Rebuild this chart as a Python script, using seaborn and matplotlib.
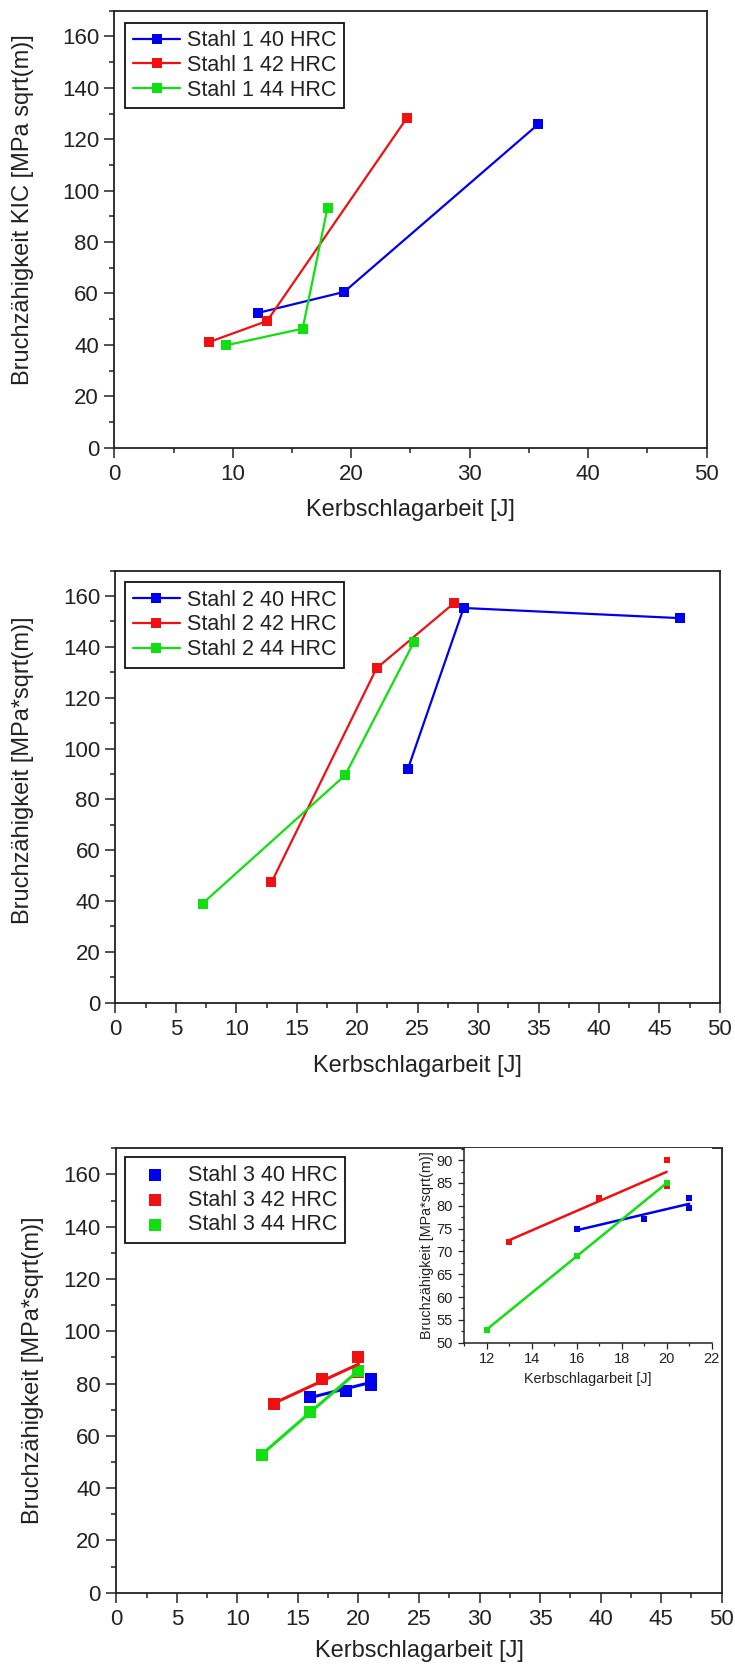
import numpy as np
import pandas as pd
import matplotlib
matplotlib.use("Agg")
import matplotlib.pyplot as plt
import seaborn as sns
from matplotlib.ticker import MultipleLocator
from matplotlib.lines import Line2D

# ---------------- data ----------------
labels1 = ["Stahl 1 40 HRC", "Stahl 1 42 HRC", "Stahl 1 44 HRC"]
s1_40_x = [12.1, 19.4, 35.8]
s1_40_y = [52.4, 60.6, 125.9]
s1_42_x = [8.0, 12.9, 24.7]
s1_42_y = [41.1, 49.3, 128.3]
s1_44_x = [9.4, 15.9, 18.0]
s1_44_y = [39.8, 46.3, 93.4]

labels2 = ["Stahl 2 40 HRC", "Stahl 2 42 HRC", "Stahl 2 44 HRC"]
s2_40_x = [24.2, 28.8, 46.7]
s2_40_y = [92.1, 155.3, 151.3]
s2_42_x = [12.9, 21.6, 28.0]
s2_42_y = [47.3, 131.6, 157.2]
s2_44_x = [7.2, 19.0, 24.7]
s2_44_y = [39.0, 89.5, 142.0]

labels3 = ["Stahl 3 40 HRC", "Stahl 3 42 HRC", "Stahl 3 44 HRC"]
s3_40_x = [16, 19, 21, 21]
s3_40_y = [75.0, 77.2, 81.8, 79.6]
s3_42_x = [13, 17, 20, 20]
s3_42_y = [72.1, 81.8, 90.1, 84.3]
s3_44_x = [12, 16, 20]
s3_44_y = [52.8, 69.05, 84.9]

colors = ["#0000f0", "#f01010", "#10e010"]

xlabel_txt = "Kerbschlagarbeit [J]"
ylabel1_txt = "Bruchzähigkeit KIC [MPa sqrt(m)]"
ylabel2_txt = "Bruchzähigkeit [MPa*sqrt(m)]"

# ---------------- style ----------------
sns.set_style("ticks")
plt.rcParams["font.family"] = ["Liberation Sans", "DejaVu Sans"]
plt.rcParams["axes.edgecolor"] = "#222222"
plt.rcParams["text.color"] = "#222222"
plt.rcParams["legend.numpoints"] = 1

TXT = "#222222"

fig = plt.figure(figsize=(7.35, 16.68), dpi=100)
fig.patch.set_facecolor("white")

ax1 = fig.add_axes([0.1555, 0.7316, 0.8060, 0.2620])
ax2 = fig.add_axes([0.1571, 0.3989, 0.8224, 0.2590])
ax3 = fig.add_axes([0.1582, 0.04514, 0.8237, 0.2664])
axi = fig.add_axes([0.6313, 0.1950, 0.3370, 0.1165])


def style_main(ax, xmaj, xmin):
    ax.set_xlim(0, 50)
    ax.set_ylim(0, 170)
    ax.xaxis.set_major_locator(MultipleLocator(xmaj))
    ax.xaxis.set_minor_locator(MultipleLocator(xmin))
    ax.yaxis.set_major_locator(MultipleLocator(20))
    ax.yaxis.set_minor_locator(MultipleLocator(10))
    ax.tick_params(which="both", direction="out", top=False, right=False,
                   colors=TXT, labelsize=16, width=1.1)
    ax.tick_params(which="major", length=7)
    ax.tick_params(which="minor", length=3.5)
    ax.tick_params(axis="y", pad=4)
    ax.tick_params(axis="x", pad=5)
    for sp in ax.spines.values():
        sp.set_visible(True)
        sp.set_color(TXT)
        sp.set_linewidth(1.3)


def set_labels(ax, xl, yl, xly, ylx, yly, size=17):
    ax.set_xlabel(xl, fontsize=size, color=TXT, va="center")
    ax.set_ylabel(yl, fontsize=size, color=TXT, va="center")
    ax.xaxis.set_label_coords(0.5, xly)
    ax.yaxis.set_label_coords(ylx, yly)


def legend(ax, x, y, marker_only=False):
    leg = ax.legend(loc="upper left", bbox_to_anchor=(x, y), borderaxespad=0,
                    fontsize=15.5, frameon=True, fancybox=False,
                    edgecolor="#111111", framealpha=1,
                    handlelength=2.2 if not marker_only else 2.1,
                    handletextpad=0.3 if not marker_only else 0.45,
                    labelspacing=0.17, borderpad=0.35)
    leg.get_frame().set_linewidth(1.3)
    for t in leg.get_texts():
        t.set_color(TXT)
    return leg


# ---------------- panel 1 ----------------
for xs, ys, lab, c in zip([s1_40_x, s1_42_x, s1_44_x], [s1_40_y, s1_42_y, s1_44_y],
                          labels1, colors):
    sns.lineplot(x=xs, y=ys, ax=ax1, color=c, marker="s", markersize=7,
                 markeredgewidth=0, linewidth=1.6, sort=False, estimator=None,
                 label=lab)
style_main(ax1, 10, 5)
set_labels(ax1, xlabel_txt, ylabel1_txt, -0.1426, -0.1543, 0.544)
legend(ax1, 0.0186, 0.9725)

# ---------------- panel 2 ----------------
for xs, ys, lab, c in zip([s2_40_x, s2_42_x, s2_44_x], [s2_40_y, s2_42_y, s2_44_y],
                          labels2, colors):
    sns.lineplot(x=xs, y=ys, ax=ax2, color=c, marker="s", markersize=7,
                 markeredgewidth=0, linewidth=1.6, sort=False, estimator=None,
                 label=lab)
style_main(ax2, 5, 2.5)
set_labels(ax2, xlabel_txt, ylabel2_txt, -0.1465, -0.1524, 0.5387)
legend(ax2, 0.0162, 0.9731)

# ---------------- panel 3 (scatter + linear fits) ----------------
for xs, ys, lab, c in zip([s3_40_x, s3_42_x, s3_44_x], [s3_40_y, s3_42_y, s3_44_y],
                          labels3, colors):
    sns.scatterplot(x=xs, y=ys, ax=ax3, color=c, marker="s", s=75,
                    linewidth=0, label=lab, zorder=3)
    sns.regplot(x=np.array(xs, float), y=np.array(ys, float), ax=ax3,
                scatter=False, ci=None, truncate=True, color=c,
                line_kws={"linewidth": 2.2, "zorder": 4})
style_main(ax3, 5, 2.5)
set_labels(ax3, xlabel_txt, ylabel2_txt, -0.1312, -0.1376, 0.501)
legend(ax3, 0.0149, 0.9797, marker_only=True)

# ---------------- inset ----------------
for xs, ys, c in zip([s3_40_x, s3_42_x, s3_44_x], [s3_40_y, s3_42_y, s3_44_y], colors):
    sns.scatterplot(x=xs, y=ys, ax=axi, color=c, marker="s", s=22,
                    linewidth=0, zorder=3)
    sns.regplot(x=np.array(xs, float), y=np.array(ys, float), ax=axi,
                scatter=False, ci=None, truncate=True, color=c,
                line_kws={"linewidth": 1.8, "zorder": 4})
axi.set_xlim(11, 22)
axi.set_ylim(50, 92.56)
axi.xaxis.set_major_locator(MultipleLocator(2))
axi.xaxis.set_minor_locator(MultipleLocator(1))
axi.yaxis.set_major_locator(MultipleLocator(5))
axi.yaxis.set_minor_locator(MultipleLocator(2.5))
axi.tick_params(which="both", direction="out", top=False, right=False,
                colors=TXT, labelsize=10.5, width=0.9)
axi.tick_params(which="major", length=4)
axi.tick_params(which="minor", length=2.5)
axi.tick_params(axis="y", pad=4)
axi.tick_params(axis="x", pad=3)
axi.spines["top"].set_visible(False)
axi.spines["right"].set_visible(False)
for k in ["left", "bottom"]:
    axi.spines[k].set_color(TXT)
    axi.spines[k].set_linewidth(1.1)
axi.set_facecolor("white")
set_labels(axi, xlabel_txt, ylabel2_txt, -0.188, -0.1506, 0.5026, size=10.4)

fig.savefig("out.png", dpi=100)
